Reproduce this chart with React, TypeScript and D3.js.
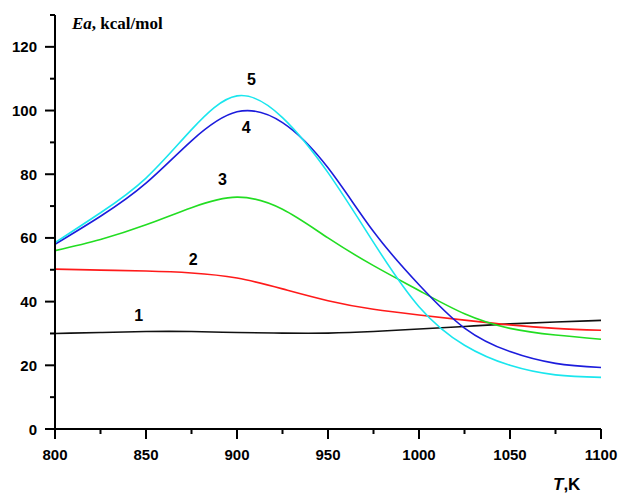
import React from "react";
import { scaleLinear, line, curveNatural, range } from "d3";

// temperature grid, K
const temps = [800, 825, 850, 875, 900, 925, 950, 975, 1000, 1025, 1050, 1075, 1100];

// activation energy, kcal/mol, curves 1..5
const curve1 = [30.0, 30.3, 30.6, 30.6, 30.3, 30.1, 30.1, 30.6, 31.4, 32.2, 33.0, 33.6, 34.1];
const curve2 = [50.2, 49.9, 49.6, 49.0, 47.4, 44.0, 40.3, 37.6, 35.8, 34.2, 32.7, 31.6, 31.0];
const curve3 = [56.0, 59.5, 64.1, 69.5, 72.8, 69.0, 60.0, 51.3, 43.5, 36.2, 31.6, 29.5, 28.2];
const curve4 = [58.0, 66.8, 77.2, 90.5, 99.6, 96.2, 82.0, 62.0, 45.3, 31.7, 24.3, 20.6, 19.3];
const curve5 = [58.5, 67.9, 78.8, 94.0, 104.6, 97.8, 80.5, 58.6, 38.4, 26.3, 20.0, 17.0, 16.2];

const curves = [curve1, curve2, curve3, curve4, curve5];
const curveNames = ["1", "2", "3", "4", "5"];
const curveColors = ["#111111", "#ff1a1a", "#22dd22", "#1c1cdc", "#1ae6ee"];
// where each number label sits (data coords)
const labelT = [846, 876, 892, 905, 908];
const labelE = [35.5, 53.2, 78.3, 94.8, 109.8];

const xTicks = [800, 850, 900, 950, 1000, 1050, 1100];
const yTicks = [0, 20, 40, 60, 80, 100, 120];

export default function App() {
  const x = scaleLinear().domain([800, 1100]).range([55, 601]);
  const y = scaleLinear().domain([0, 130]).range([429, 15]);

  const minorX = range(825, 1100, 50);
  const minorY = range(10, 131, 20);

  const numFont = "'Liberation Sans', Arial, sans-serif";

  return (
    <svg
      width={621}
      height={495}
      style={{ position: "absolute", left: 0, top: 0, background: "#fff" }}
    >
      {curves.map((vals, i) => {
        const path = line<number>()
          .x((_, j) => x(temps[j]))
          .y((d) => y(d))
          .curve(curveNatural)(vals);
        return (
          <path
            key={i}
            d={path || ""}
            fill="none"
            stroke={curveColors[i]}
            strokeWidth={1.6}
          />
        );
      })}

      {/* axes */}
      <g stroke="#000" strokeWidth={2}>
        <line x1={x(800)} x2={x(800)} y1={y(0) + 1} y2={y(130)} />
        <line x1={x(800) - 1} x2={x(1100)} y1={y(0)} y2={y(0)} />
        {yTicks.map((t) => (
          <line key={"yt" + t} x1={x(800) - 10} x2={x(800)} y1={y(t)} y2={y(t)} />
        ))}
        {minorY.map((t) => (
          <line key={"ym" + t} x1={x(800) - 5} x2={x(800)} y1={y(t)} y2={y(t)} />
        ))}
        {xTicks.map((t) => (
          <line key={"xt" + t} x1={x(t)} x2={x(t)} y1={y(0)} y2={y(0) + 10} />
        ))}
        {minorX.map((t) => (
          <line key={"xm" + t} x1={x(t)} x2={x(t)} y1={y(0)} y2={y(0) + 5} />
        ))}
      </g>

      <g fontFamily={numFont} fontWeight="bold" fontSize={15} fill="#000">
        {yTicks.map((t) => (
          <text key={"yl" + t} x={37} y={y(t)} textAnchor="end" dominantBaseline="central">
            {t}
          </text>
        ))}
        {xTicks.map((t) => (
          <text key={"xl" + t} x={x(t)} y={454} textAnchor="middle" dominantBaseline="central">
            {t}
          </text>
        ))}
      </g>

      <g fontFamily={numFont} fontWeight="bold" fontSize={16} fill="#000">
        {curveNames.map((n, i) => (
          <text
            key={"cl" + n}
            x={x(labelT[i])}
            y={y(labelE[i])}
            textAnchor="middle"
            dominantBaseline="central"
          >
            {n}
          </text>
        ))}
      </g>

      <text
        x={72}
        y={29}
        fontFamily="'Liberation Serif', 'Times New Roman', serif"
        fontWeight="bold"
        fontSize={17}
      >
        <tspan fontStyle="italic">Ea</tspan>, kcal/mol
      </text>

      <text x={553} y={490} fontFamily={numFont} fontWeight="bold" fontSize={17}>
        <tspan fontStyle="italic">T</tspan>,K
      </text>
    </svg>
  );
}
